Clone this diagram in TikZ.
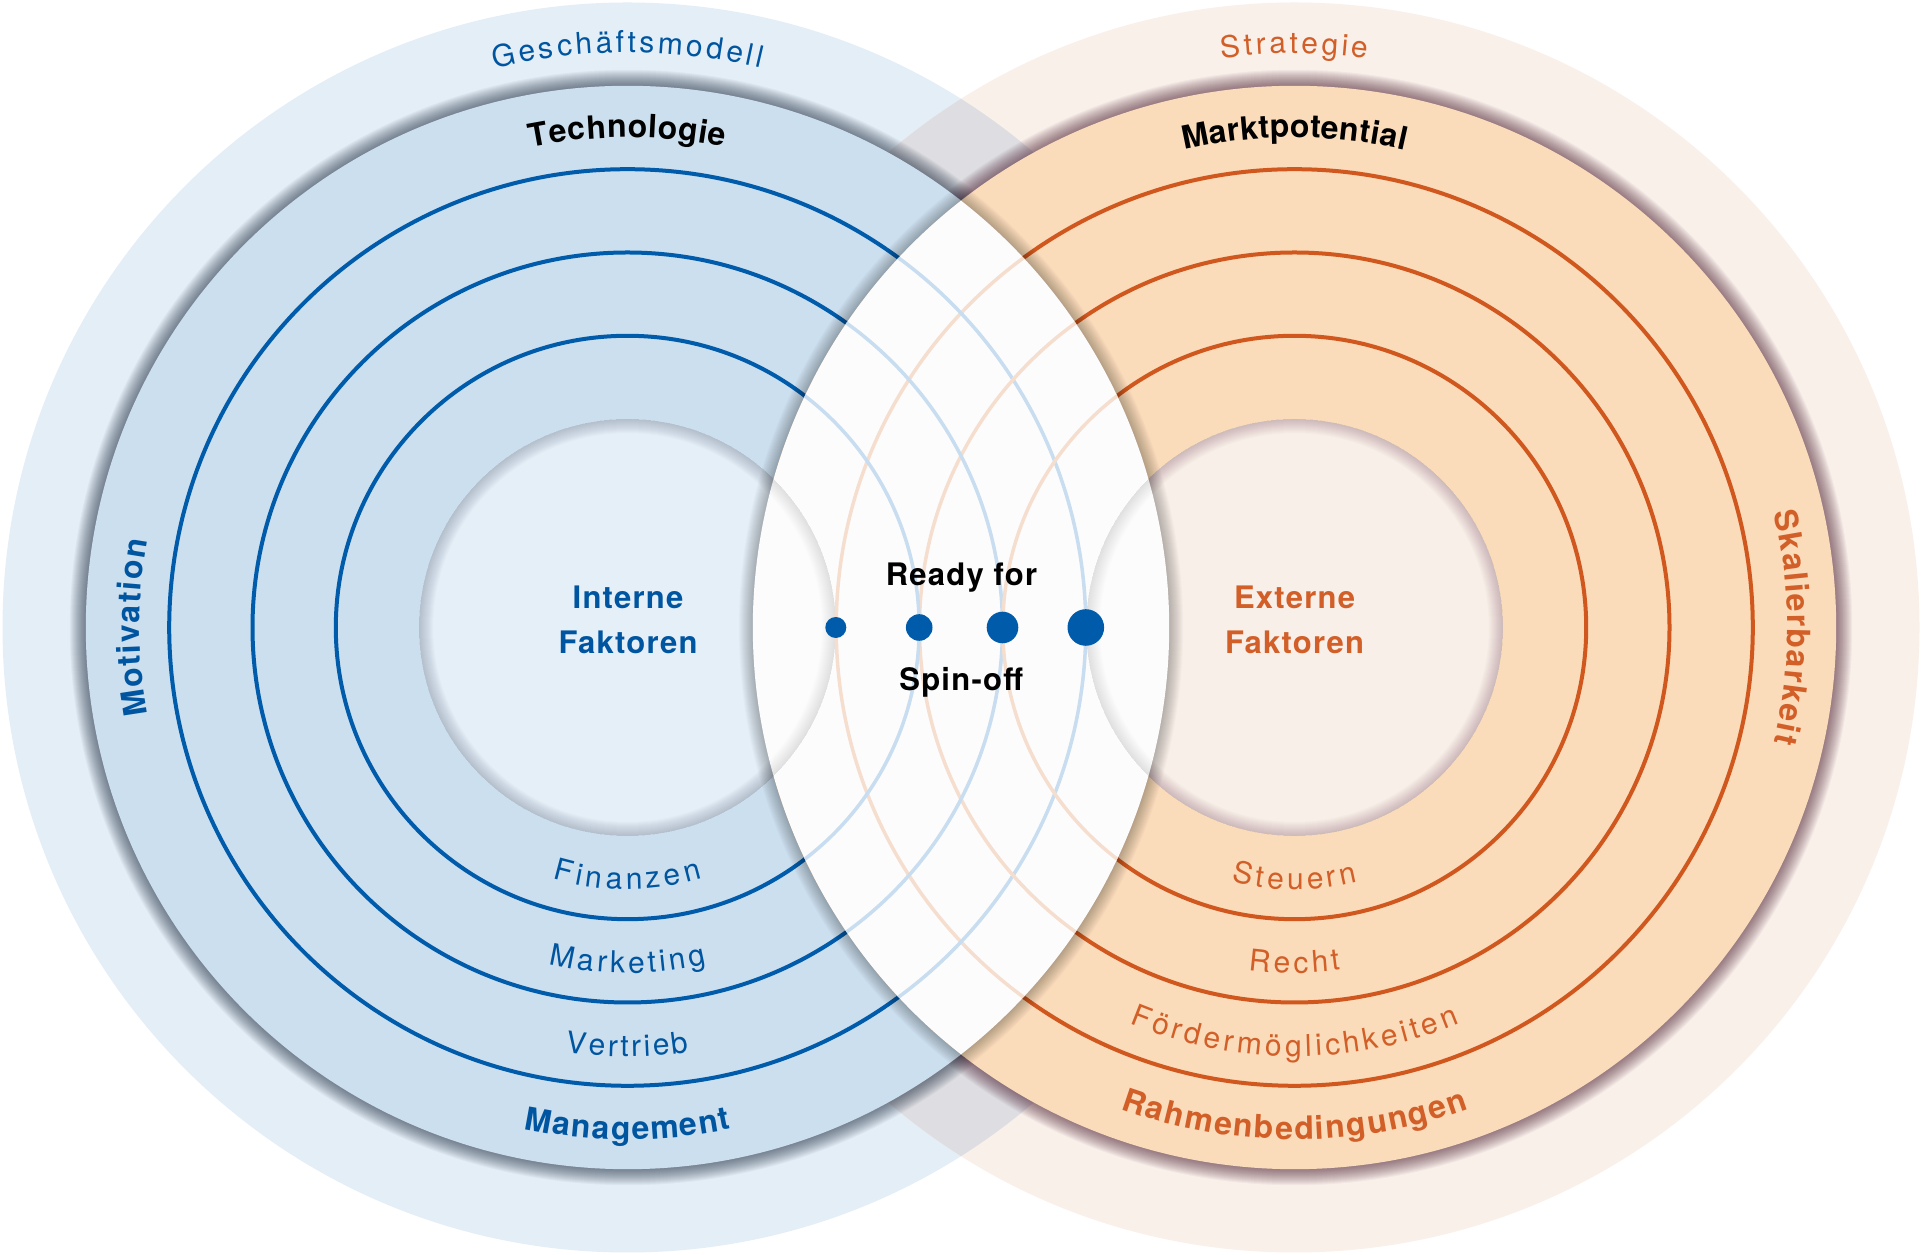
\documentclass[tikz,border=0pt]{standalone}
\usepackage{fontspec}
\setmainfont{TeX Gyre Heros}
\usetikzlibrary{decorations.text}
\definecolor{oBlue}{RGB}{228,238,247}
\definecolor{mBlue}{RGB}{203,223,238}
\definecolor{iBlue}{RGB}{229,239,248}
\definecolor{oOrange}{RGB}{249,240,234}
\definecolor{mOrange}{RGB}{250,219,186}
\definecolor{iOrange}{RGB}{248,239,233}
\definecolor{oGrey}{RGB}{222,222,226}
\definecolor{lineBlue}{RGB}{0,91,170}
\definecolor{lineOrange}{RGB}{208,88,30}
\definecolor{txtBlue}{RGB}{0,85,160}
\definecolor{txtOrange}{RGB}{210,95,40}
\definecolor{ghostBlue}{RGB}{200,221,239}
\definecolor{ghostOrange}{RGB}{246,222,207}
\definecolor{lensW}{RGB}{252,252,253}
\definecolor{shBlue}{RGB}{15,30,50}
\definecolor{shOrange}{RGB}{60,10,30}
\newcommand\fN{\fontsize{30pt}{30pt}\selectfont}
\newcommand\fB{\fontsize{32pt}{32pt}\selectfont\bfseries}
\newcommand\fC{\fontsize{31pt}{44pt}\selectfont\bfseries\addfontfeature{LetterSpace=4}}
\newcommand\ctext[7]{%
  \path[decorate,decoration={text along path,text={|#5|#7},text color=#6,text align={fit to path}}]
    ([shift={(#3:#2)}]#1) arc[start angle=#3,end angle=#4,radius=#2];}
\tikzset{
  ringB/.style={draw=lineBlue,line width=4pt},
  ringO/.style={draw=lineOrange,line width=4pt},
  ghostB/.style={draw=ghostBlue,line width=3.5pt},
  ghostO/.style={draw=ghostOrange,line width=3.5pt},
  dot/.style={circle,fill=lineBlue,inner sep=0pt},
  centertxt/.style={font=\fC,align=center,anchor=base}
}
\begin{document}
\begin{tikzpicture}[x=1pt,y=1pt]
\useasboundingbox (0,0) rectangle (1922,1255);
\fill[white] (0,0) rectangle (1922,1255);
\coordinate (cL) at (627.5,627.5);
\coordinate (cR) at (1294.5,627.5);
\def\RadO{625pt}\def\RadM{541.7pt}\def\RadA{458.3pt}\def\RadB{375pt}\def\RadC{291.7pt}\def\RadI{208.3pt}
\def\lenspath{(961,1054.37) arc[start angle=128,end angle=232,radius=\RadM] arc[start angle=-52,end angle=52,radius=\RadM] -- cycle}
% outer rings
\fill[oBlue] (cL) circle[radius=\RadO];
\fill[oOrange] (cR) circle[radius=\RadO];
\begin{scope}
  \clip (cL) circle[radius=\RadO];
  \fill[oGrey] (cR) circle[radius=\RadO];
\end{scope}
% drop shadows of middle discs
\foreach \w in {32,30,...,2}{
  \draw[draw=shBlue,line width=\w pt,draw opacity=0.04] (cL) circle[radius=\RadM];
  \draw[draw=shOrange,line width=\w pt,draw opacity=0.04] (cR) circle[radius=\RadM];
}
% middle discs
\fill[mBlue] (cL) circle[radius=\RadM];
\fill[mOrange] (cR) circle[radius=\RadM];
% inner discs with inset shadow
\fill[iBlue] (cL) circle[radius=\RadI];
\fill[iOrange] (cR) circle[radius=\RadI];
\begin{scope}
  \clip (cL) circle[radius=\RadI];
  \foreach \w in {28,26,...,2}{\draw[draw=shBlue,line width=\w pt,draw opacity=0.016] (cL) circle[radius=\RadI];}
\end{scope}
\begin{scope}
  \clip (cR) circle[radius=\RadI];
  \foreach \w in {28,26,...,2}{\draw[draw=shOrange,line width=\w pt,draw opacity=0.016] (cR) circle[radius=\RadI];}
\end{scope}
% ring lines
\foreach \r in {\RadA,\RadB,\RadC}{
  \draw[ringB] (cL) circle[radius=\r];
  \draw[ringO] (cR) circle[radius=\r];
}
% lens shadow
\begin{scope}
  \clip (cL) circle[radius=\RadM] (cR) circle[radius=\RadM];
  \foreach \w in {28,26,...,2}{\draw[draw=black,line width=\w pt,draw opacity=0.02] \lenspath;}
\end{scope}
% lens
\fill[lensW] \lenspath;
\begin{scope}
  \clip \lenspath;
  \begin{scope}
    \clip (cL) circle[radius=\RadI];
    \foreach \w in {28,26,...,2}{\draw[draw=shBlue,line width=\w pt,draw opacity=0.006] (cL) circle[radius=\RadI];}
  \end{scope}
  \begin{scope}
    \clip (cR) circle[radius=\RadI];
    \foreach \w in {28,26,...,2}{\draw[draw=shOrange,line width=\w pt,draw opacity=0.006] (cR) circle[radius=\RadI];}
  \end{scope}
  \foreach \r in {\RadA,\RadB,\RadC}{
    \draw[ghostO] (cR) circle[radius=\r];
    \draw[ghostB] (cL) circle[radius=\r];
  }
\end{scope}
% dots
\node[dot,minimum size=21pt] (d1) at (835.8,627.5) {};
\node[dot,minimum size=26.6pt] (d2) at (919.2,627.5) {};
\node[dot,minimum size=31.6pt] (d3) at (1002.5,627.5) {};
\node[dot,minimum size=36.6pt] (d4) at (1085.8,627.5) {};
% centre texts
\node[centertxt,text=txtBlue] (intern1) at (628,646) {Interne};
\node[centertxt,text=txtBlue] (intern2) at (628,601) {Faktoren};
\node[centertxt,text=txtOrange] (extern1) at (1294.5,646) {Externe};
\node[centertxt,text=txtOrange] (extern2) at (1294.5,601) {Faktoren};
\node[centertxt,text=black] (ready) at (961.5,669.3) {Ready for};
\node[centertxt,text=black] (spin) at (961.2,564.3) {Spin-off};
% curved texts
\ctext{cL}{575pt}{103.4}{76.6}{\fN}{txtBlue}{Geschäftsmodell}
\ctext{cR}{574pt}{97.3}{82.7}{\fN}{txtOrange}{Strategie}
\ctext{cL}{490pt}{101.4}{78.6}{\fB}{black}{Technologie}
\ctext{cR}{490pt}{103}{77}{\fB}{black}{Marktpotential}
\ctext{cL}{488pt}{190.3}{169.7}{\fB}{txtBlue}{Motivation}
\ctext{cR}{493pt}{13.5}{-13.5}{\fB}{txtOrange}{Skalierbarkeit}
\ctext{cL}{262pt}{253.4}{286.6}{\fN}{txtBlue}{Finanzen}
\ctext{cL}{345.5pt}{256.8}{283.2}{\fN}{txtBlue}{Marketing}
\ctext{cL}{429pt}{261.7}{278.3}{\fN}{txtBlue}{Vertrieb}
\ctext{cL}{512pt}{258.3}{281.7}{\fB}{txtBlue}{Management}
\ctext{cR}{262pt}{256}{284}{\fN}{txtOrange}{Steuern}
\ctext{cR}{345.5pt}{262.3}{277.7}{\fN}{txtOrange}{Recht}
\ctext{cR}{429pt}{247.4}{292.6}{\fN}{txtOrange}{Fördermöglichkeiten}
\ctext{cR}{512pt}{250.1}{289.9}{\fB}{txtOrange}{Rahmenbedingungen}
\end{tikzpicture}
\end{document}
